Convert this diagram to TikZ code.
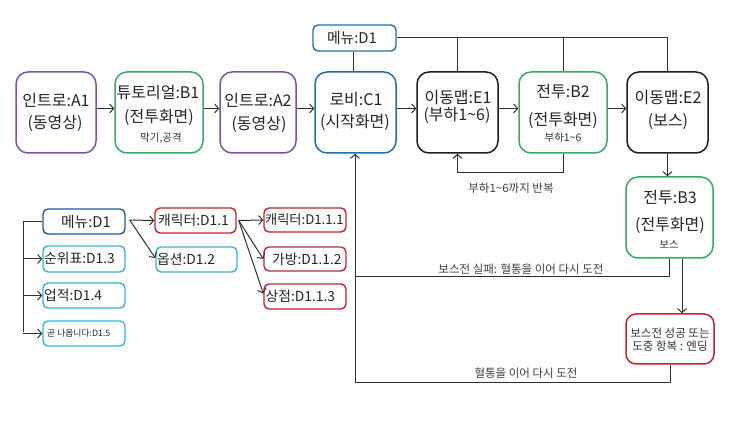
\documentclass[tikz,border=0pt]{standalone}
\usepackage{fontspec}
\setmainfont{Noto Sans CJK KR}
\usetikzlibrary{arrows.meta}
\definecolor{cpurp}{RGB}{125,85,160}
\definecolor{cgrn}{RGB}{60,170,100}
\definecolor{cblu}{RGB}{40,110,170}
\definecolor{cnavy}{RGB}{40,90,140}
\definecolor{ccyn}{RGB}{60,180,215}
\definecolor{crd}{RGB}{190,40,50}
\definecolor{cblk}{RGB}{30,30,30}
\definecolor{cline}{RGB}{50,50,50}
\tikzset{
  bigbox/.style={draw, rounded corners=12pt, line width=1.5pt, inner sep=0pt, minimum width=#1, minimum height=81pt},
  smbox/.style={draw, rounded corners=5pt, line width=1.4pt, inner sep=0pt, minimum width=82pt, minimum height=25pt},
  mtxt/.style={inner sep=0pt, font=\fontsize{16}{19}\selectfont, text=black!85},
  stxt/.style={inner sep=0pt, font=\fontsize{10.5}{12}\selectfont, text=black!80},
  ltxt/.style={inner sep=0pt, font=\fontsize{13.8}{16}\selectfont, text=black!85, anchor=west},
  lbl/.style={inner sep=0pt, font=\fontsize{11.5}{13}\selectfont, text=black!75},
  conn/.style={draw=cline, line width=1pt},
  arr/.style={conn, -{Straight Barb[length=4pt,width=9pt]}}
}
\begin{document}
\begin{tikzpicture}[x=1pt,y=-1pt]
\path[use as bounding box, fill=white] (0,0) rectangle (740,435);
% top row boxes
\node[bigbox=80pt, draw=cpurp] (A1) at (56,112.5) {};
\node[bigbox=88pt, draw=cgrn] (B1) at (159,112.5) {};
\node[bigbox=76pt, draw=cpurp] (A2) at (258,112.5) {};
\node[bigbox=81pt, draw=cblu] (C1) at (355.5,112.5) {};
\node[bigbox=81pt, draw=cblk] (E1) at (457.5,112.5) {};
\node[bigbox=88pt, draw=cgrn] (B2) at (563,112.5) {};
\node[bigbox=81pt, draw=cblk] (E2) at (667.5,112.5) {};
\node[bigbox=87pt, draw=cgrn] (B3) at (669.5,217.5) {};
\node[draw=crd, rounded corners=10pt, line width=1.5pt, inner sep=0pt, minimum width=88pt, minimum height=50pt] (End) at (670,339) {};
\node[smbox, draw=cblu, minimum width=83pt, minimum height=26pt] (MT) at (354.5,38) {};
% texts top row
\node[mtxt] (tA1a) at (56,100) {인트로:A1};
\node[mtxt] (tA1b) at (55,123) {(동영상)};
\node[mtxt] (tB1a) at (158,93) {튜토리얼:B1};
\node[mtxt] (tB1b) at (159,117) {(전투화면)};
\node[stxt] (tB1c) at (161,138) {막기,공격};
\node[mtxt] (tA2a) at (258,100) {인트로:A2};
\node[mtxt] (tA2b) at (259,124) {(동영상)};
\node[mtxt] (tC1a) at (356,100) {로비:C1};
\node[mtxt] (tC1b) at (355,122) {(시작화면)};
\node[mtxt] (tE1a) at (458,98) {이동맵:E1};
\node[mtxt] (tE1b) at (457,115) {(부하1\textasciitilde6)};
\node[mtxt] (tB2a) at (563,92) {전투:B2};
\node[mtxt] (tB2b) at (563,120) {(전투화면)};
\node[stxt] (tB2c) at (563,138) {부하1\textasciitilde6};
\node[mtxt] (tE2a) at (668,98) {이동맵:E2};
\node[mtxt] (tE2b) at (668,122) {(보스)};
\node[mtxt] (tB3a) at (670,198) {전투:B3};
\node[mtxt] (tB3b) at (670,225) {(전투화면)};
\node[stxt] (tB3c) at (669,244) {보스};
\node[inner sep=0pt, font=\fontsize{11.5}{13.5}\selectfont, text=black!80, align=center] (tEnd) at (670,339.5) {보스전 성공 또는\\도중 항복 : 엔딩};
\node[inner sep=0pt, font=\fontsize{14.8}{17}\selectfont, text=black!85] (tMT) at (352,38) {메뉴:D1};
% top connectors
\draw[arr] ([yshift=4pt]A1.east) -- ([yshift=4pt]B1.west);
\draw[arr] ([yshift=4pt]B1.east) -- ([yshift=4pt]A2.west);
\draw[arr] ([yshift=4pt]A2.east) -- ([yshift=4pt]C1.west);
\draw[arr] ([yshift=4pt]C1.east) -- ([yshift=4pt]E1.west);
\draw[arr] ([yshift=4pt]E1.east) -- ([yshift=4pt]B2.west);
\draw[arr] ([yshift=4pt]B2.east) -- ([yshift=4pt]E2.west);
\draw[conn] ([xshift=-1.5pt]MT.south) -- ([xshift=-1.5pt]MT.south |- C1.north);
\draw[conn] (MT.east) -| (E2.north);
\draw[conn] (E1.north) -- (E1.north |- MT.east);
\draw[conn] (B2.north) -- (B2.north |- MT.east);
\draw[arr] (B2.south) -- ++(0,19) -| (E1.south);
\node[lbl] (lLoop) at (511,188) {부하1\textasciitilde6까지 반복};
\draw[arr] (E2.south) -- (E2.south |- B3.north);
\coordinate (j1) at (355,277);
\coordinate (j2) at (355,383);
\draw[conn] (B3.south) |- (j1);
\draw[arr] ([xshift=12.5pt]B3.south) -- ([xshift=12.5pt]B3.south |- End.north);
\draw[conn] (End.south) |- (j2);
\draw[arr] (j2) -- (j2 |- C1.south);
\node[lbl] (lFail) at (521,269) {보스전 실패: 혈통을 이어 다시 도전};
\node[lbl] (lRetry) at (526,373) {혈통을 이어 다시 도전};
% lower menu tree
\node[smbox, draw=cnavy] (mD1) at (84,221.5) {};
\node[smbox, draw=ccyn, minimum height=26pt] (D13) at (84,259) {};
\node[smbox, draw=ccyn] (D14) at (84,295.5) {};
\node[smbox, draw=ccyn] (D15) at (84,333.5) {};
\node[smbox, draw=crd, minimum width=81pt] (D11) at (195.5,220.5) {};
\node[smbox, draw=ccyn, minimum width=81pt] (D12) at (196.5,259.5) {};
\node[smbox, draw=crd, minimum height=24pt] (D111) at (305,220) {};
\node[smbox, draw=crd, minimum height=24pt] (D112) at (305,259) {};
\node[smbox, draw=crd] (D113) at (305,296.5) {};
\node[inner sep=0pt, font=\fontsize{14.8}{17}\selectfont, text=black!85] (tmD1) at (86,222) {메뉴:D1};
\node[ltxt] (tD13) at (44,258.5) {순위표:D1.3};
\node[ltxt] (tD14) at (44,295.5) {업적:D1.4};
\node[ltxt, font=\fontsize{8.8}{10}\selectfont] (tD15) at (47,333.5) {곧 나옵니다:D1.5};
\node[ltxt] (tD11) at (158,220.5) {캐릭터:D1.1};
\node[ltxt] (tD12) at (157,259.5) {옵션:D1.2};
\node[ltxt, font=\fontsize{13.2}{15}\selectfont] (tD111) at (265,220) {캐릭터:D1.1.1};
\node[ltxt] (tD112) at (272,259) {가방:D1.1.2};
\node[ltxt] (tD113) at (265.5,296.5) {상점:D1.1.3};
\coordinate (tb) at (23,332);
\draw[conn] (mD1.west) -| (tb);
\draw[arr] (D13.west -| tb) -- (D13.west);
\draw[arr] (D14.west -| tb) -- (D14.west);
\draw[arr] (D15.west -| tb) -- (D15.west);
\draw[arr] ([xshift=4pt,yshift=1.5pt]mD1.east) -- (D11.west);
\draw[arr] ([xshift=4pt,yshift=1.5pt]mD1.east) -- ([yshift=1.5pt]D12.west);
\draw[arr] ([xshift=2pt]D11.east) -- (D111.west);
\draw[arr] ([xshift=2pt]D11.east) -- (D112.west);
\draw[arr] ([xshift=2pt]D11.east) -- ([yshift=3pt]D113.west);
\end{tikzpicture}
\end{document}
